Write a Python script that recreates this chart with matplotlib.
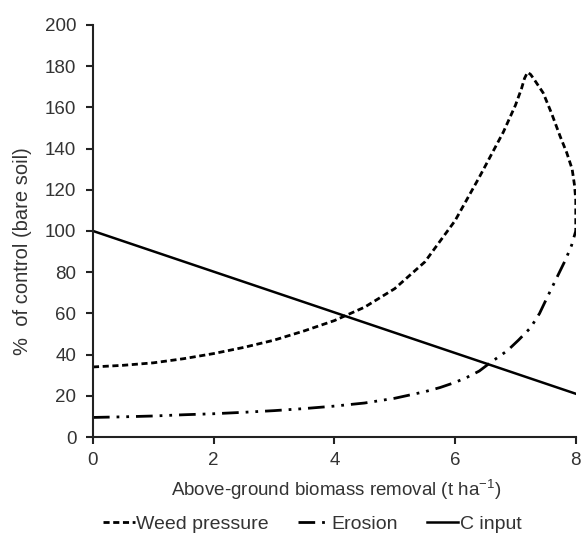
import matplotlib
matplotlib.use("Agg")
import matplotlib.pyplot as plt

plt.rcParams['font.family'] = ['Liberation Sans', 'DejaVu Sans']
plt.rcParams['mathtext.fontset'] = 'custom'
plt.rcParams['mathtext.rm'] = 'Liberation Sans'
plt.rcParams['mathtext.default'] = 'regular'

# Weed pressure (% of control)
weed_x = [0, 0.5, 1, 1.5, 2, 2.5, 3, 3.5, 4, 4.5, 5, 5.5, 6, 6.4, 6.8, 7.0, 7.1, 7.15, 7.2,
          7.25, 7.3, 7.46, 7.6, 7.74, 7.85, 7.94, 7.98, 8.0, 8.0]
weed_y = [34, 34.8, 36, 38, 40.5, 43.5, 47, 51.5, 56.5, 63, 72, 85, 105, 126, 148, 161, 169, 174, 177,
          176, 174, 167, 157, 146, 138, 130, 122, 115, 100]

# Erosion (% of control)
eros_x = [0, 0.5, 1, 1.5, 2, 2.5, 3, 3.5, 4, 4.5, 5, 5.5, 5.75, 6, 6.2, 6.4, 6.58, 6.75,
          6.87, 7.05, 7.25, 7.4, 7.53, 7.68, 7.83, 7.93, 8.0]
eros_y = [9.5, 9.8, 10.2, 10.8, 11.3, 12, 12.8, 13.8, 15, 16.5, 18.8, 22, 24, 26.5, 29, 32, 36, 39.5,
          42, 47, 53, 60, 68, 77, 86, 93, 100]

# C input (% of control)
cin_x = [0, 8]
cin_y = [100, 21]

x_ticks = [0, 2, 4, 6, 8]
y_ticks = [0, 20, 40, 60, 80, 100, 120, 140, 160, 180, 200]

fig = plt.figure(figsize=(5.81, 5.38), dpi=100)
ax = fig.add_axes([0.160, 0.1877, 0.831, 0.766])

ax.plot(weed_x, weed_y, color='black', lw=2.0, linestyle=(0, (2.2, 1.3)),
        solid_joinstyle='round', label='Weed pressure')
ax.plot(eros_x, eros_y, color='black', lw=2.0, linestyle=(0, (6, 2.5, 1, 2.5, 1, 2.5)),
        label='Erosion')
ax.plot(cin_x, cin_y, color='black', lw=1.8, linestyle='-', label='C input')

ax.set_xlim(0, 8)
ax.set_ylim(0, 200)
ax.set_xticks(x_ticks)
ax.set_yticks(y_ticks)
for s in ['top', 'right']:
    ax.spines[s].set_visible(False)
for s in ['left', 'bottom']:
    ax.spines[s].set_linewidth(1.5)
    ax.spines[s].set_color('#222222')
ax.tick_params(direction='out', length=5, width=1.5, labelsize=13.5, colors='#222222',
               labelcolor='#333333')
ax.tick_params(axis='x', pad=6)
ax.tick_params(axis='y', pad=7)

ax.set_xlabel('Above-ground biomass removal (t ha$^{-1}$)', fontsize=13.5, color='#333333')
ax.xaxis.set_label_coords(0.503, -0.1)
ax.set_ylabel('%  of control (bare soil)', fontsize=14.5, color='#333333')
ax.yaxis.set_label_coords(-0.126, 0.451)

fig.legend(loc='center', bbox_to_anchor=(0.538, 0.026), ncol=3, frameon=False,
           fontsize=14, handlelength=1.6, handletextpad=0.1, columnspacing=1.5,
           labelcolor='#333333', borderpad=0.1)

fig.savefig('out.png', dpi=100)
